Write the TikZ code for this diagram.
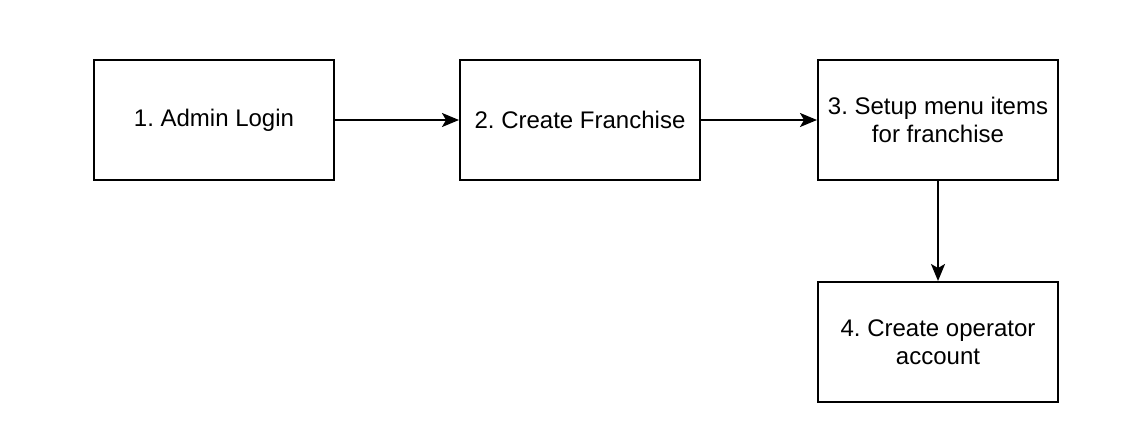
\documentclass[tikz,border=0pt]{standalone}
\usepackage{fontspec}
\setmainfont{Liberation Sans}
\usetikzlibrary{arrows.meta}
\frenchspacing
\begin{document}
\begin{tikzpicture}[x=1pt,y=-1pt,
  stepbox/.style={draw=black, line width=2pt, minimum width=240pt, minimum height=120pt, inner sep=0pt, align=center, font=\fontsize{24}{28}\selectfont, anchor=north west},
  conn/.style={line width=2pt, -{Stealth[length=17pt, width=14pt, inset=4pt]}}]
\useasboundingbox (0,0) rectangle (1142,442);
\fill[white] (0,0) rectangle (1142,442);
\node[stepbox] (a) at (93,59) {1. Admin Login};
\node[stepbox] (b) at (459,59) {2. Create Franchise};
\node[stepbox] (c) at (817,59) {3. Setup menu items\\for franchise};
\node[stepbox] (d) at (817,281) {4. Create operator\\account};
\draw[conn] (a.east) -- (b.west);
\draw[conn] (b.east) -- (c.west);
\draw[conn] (c.south) -- (d.north);
\end{tikzpicture}
\end{document}
